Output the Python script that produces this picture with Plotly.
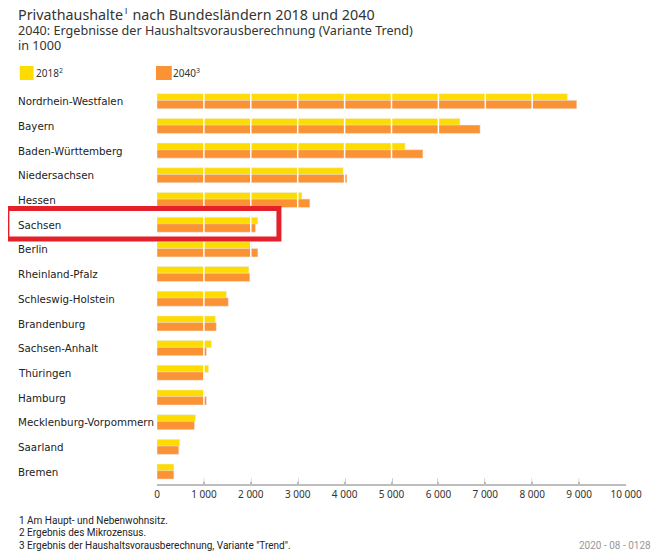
import plotly.graph_objects as go

# Privathaushalte in 1000
laender = ["Nordrhein-Westfalen", "Bayern", "Baden-Württemberg", "Niedersachsen",
           "Hessen", "Sachsen", "Berlin", "Rheinland-Pfalz", "Schleswig-Holstein",
           "Brandenburg", "Sachsen-Anhalt", "Thüringen", "Hamburg",
           "Mecklenburg-Vorpommern", "Saarland", "Bremen"]
werte_2018 = [8750, 6460, 5290, 3970, 3090, 2150, 2020, 1960, 1480,
              1245, 1160, 1100, 1010, 820, 485, 360]
werte_2040 = [8950, 6890, 5670, 4050, 3260, 2100, 2150, 1980, 1520,
              1265, 1055, 1005, 1055, 800, 465, 360]
tick_werte = [0, 1000, 2000, 3000, 4000, 5000, 6000, 7000, 8000, 9000, 10000]
tick_texte = ["0", "1 000", "2 000", "3 000", "4 000", "5 000", "6 000",
              "7 000", "8 000", "9 000", "10 000"]
fussnoten = ["1 Am Haupt- und Nebenwohnsitz.",
             "2 Ergebnis des Mikrozensus.",
             "3 Ergebnis der Haushaltsvorausberechnung, Variante \"Trend\"."]

GELB = "#ffdc00"
ORANGE = "#fb9234"
# Seite hat 8px Rand, daher Figur 16px kleiner als das Fenster
RAND = 8
W, H = 662 - 2 * RAND, 560 - 2 * RAND
L, R, T, B = 157 - RAND, 30 - RAND, 89 - RAND, 76 - RAND
pw, ph = W - L - R, H - T - B


def px_x(x):
    return (x - RAND - L) / pw


def px_y(y):
    return 1 - (y - RAND - T) / ph


fig = go.Figure()
fig.add_trace(go.Bar(y=laender, x=werte_2018, orientation="h", name="2018",
                     marker_color=GELB, offset=-0.31, width=0.29,
                     showlegend=False))
fig.add_trace(go.Bar(y=laender, x=werte_2040, orientation="h", name="2040",
                     marker_color=ORANGE, offset=-0.04, width=0.34,
                     showlegend=False))

# weisse Gitterlinien ueber den Balken
shapes = []
for v in tick_werte[1:-1]:
    shapes.append(dict(type="line", xref="x", yref="paper", x0=v, x1=v,
                       y0=0.006, y1=1, line=dict(color="white", width=1.5),
                       layer="above"))

# Legende
shapes.append(dict(type="rect", xref="paper", yref="paper",
                   x0=px_x(18), x1=px_x(32), y0=px_y(80), y1=px_y(66),
                   fillcolor=GELB, line=dict(width=0)))
shapes.append(dict(type="rect", xref="paper", yref="paper",
                   x0=px_x(156), x1=px_x(172), y0=px_y(80), y1=px_y(66),
                   fillcolor=ORANGE, line=dict(width=0)))

# rote Markierung Sachsen
shapes.append(dict(type="rect", xref="paper", yref="paper",
                   x0=px_x(5), x1=px_x(280.5), y0=px_y(239), y1=px_y(208.5),
                   line=dict(color="#e4202a", width=5), layer="above"))

anns = []
for land in laender:
    anns.append(dict(text=land, xref="paper", yref="y", x=px_x(14), y=land,
                     xanchor="left", yanchor="middle", showarrow=False,
                     font=dict(family="DejaVu Sans", size=10.3, color="#222")))

anns.append(dict(text="Privathaushalte<sup>1</sup> nach Bundesländern 2018 und 2040",
                 xref="paper", yref="paper", x=px_x(14), y=px_y(14),
                 xanchor="left", yanchor="middle", showarrow=False,
                 font=dict(family="Noto Sans", size=14.3, color="#333")))
anns.append(dict(text="2040: Ergebnisse der Haushaltsvorausberechnung (Variante Trend)",
                 xref="paper", yref="paper", x=px_x(14), y=px_y(30),
                 xanchor="left", yanchor="middle", showarrow=False,
                 font=dict(family="Noto Sans", size=12.6, color="#333")))
anns.append(dict(text="in 1000", xref="paper", yref="paper", x=px_x(14), y=px_y(45),
                 xanchor="left", yanchor="middle", showarrow=False,
                 font=dict(family="Noto Sans", size=12.6, color="#333")))
anns.append(dict(text="2018<sup>2</sup>", xref="paper", yref="paper", x=px_x(32), y=px_y(73),
                 xanchor="left", yanchor="middle", showarrow=False,
                 font=dict(family="Noto Sans", size=10, color="#333")))
anns.append(dict(text="2040<sup>3</sup>", xref="paper", yref="paper", x=px_x(171), y=px_y(73),
                 xanchor="left", yanchor="middle", showarrow=False,
                 font=dict(family="Noto Sans", size=10, color="#333")))

for i, note in enumerate(fussnoten):
    anns.append(dict(text=note, xref="paper", yref="paper", x=px_x(15),
                     y=px_y(520 + i * 12.5), xanchor="left", yanchor="middle",
                     showarrow=False,
                     font=dict(family="Liberation Sans Narrow, Roboto, sans-serif",
                               size=10, color="#222")))
anns.append(dict(text="2020 - 08 - 0128", xref="paper", yref="paper", x=px_x(659),
                 y=px_y(545), xanchor="right", yanchor="middle", showarrow=False,
                 font=dict(family="Liberation Sans Narrow, Roboto, sans-serif",
                           size=10, color="#999")))

fig.update_layout(
    width=W, height=H,
    margin=dict(l=L, r=R, t=T, b=B),
    plot_bgcolor="white", paper_bgcolor="white",
    barmode="overlay",
    shapes=shapes, annotations=anns,
    xaxis=dict(range=[0, 10000], tickvals=tick_werte, ticktext=tick_texte,
               showgrid=False, zeroline=False, showline=True, linecolor="#bdbdbd",
               linewidth=2, ticks="inside", ticklen=6, tickwidth=2,
               tickcolor="#bdbdbd", tickfont=dict(family="Noto Sans", size=10, color="#333")),
    yaxis=dict(categoryorder="array", categoryarray=laender, autorange="reversed",
               showticklabels=False, showgrid=False, zeroline=False, showline=False,
               ticks=""),
)

fig.write_html("out.html")
